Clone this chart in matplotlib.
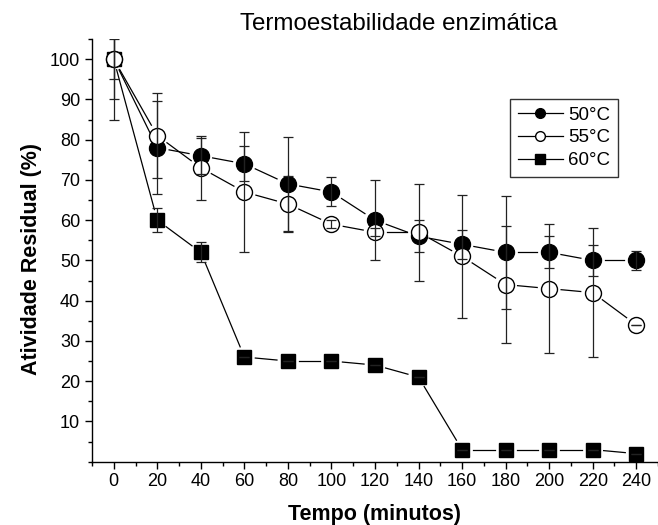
import numpy as np
import matplotlib
matplotlib.use("Agg")
from matplotlib import pyplot as plt
from matplotlib.lines import Line2D
from matplotlib.ticker import MultipleLocator

plt.rcParams['font.family'] = ['Liberation Sans', 'DejaVu Sans']

# data
tempo = [0, 20, 40, 60, 80, 100, 120, 140, 160, 180, 200, 220, 240]

ativ_50 = [100, 78, 76, 74, 69, 67, 60, 56, 54, 52, 52, 50, 50]
erro_50 = [10, 11.5, 4.5, 4.3, 11.6, 3.6, 10, 4, 3.6, 14, 4, 3.8, 2.4]

ativ_55 = [100, 81, 73, 67, 64, 59, 57, 57, 51, 44, 43, 42, 34]
erro_55 = [15, 10.5, 8, 15, 7, 1, 1, 12, 15.3, 14.6, 16, 16, 0]

ativ_60 = [100, 60, 52, 26, 25, 25, 24, 21, 3, 3, 3, 3, 2]
erro_60 = [5, 3, 2.5, 0, 0, 0, 0, 0, 0, 0, 0, 0, 0]

labels = ["50°C", "55°C", "60°C"]

fig = plt.figure(figsize=(6.58, 5.25), dpi=100)
ax = fig.add_axes([0.1398, 0.1206, 0.8602, 0.8051])
ax.set_xlim(-10, 250)
ax.set_ylim(0, 105)

for side in ["top", "right"]:
    ax.spines[side].set_visible(False)
ax.spines["left"].set_linewidth(1.0)
ax.spines["bottom"].set_linewidth(1.0)

ax.xaxis.set_major_locator(MultipleLocator(20))
ax.xaxis.set_minor_locator(MultipleLocator(10))
ax.yaxis.set_major_locator(MultipleLocator(10))
ax.yaxis.set_minor_locator(MultipleLocator(5))
ax.tick_params(which="major", direction="out", length=5, width=1, labelsize=13)
ax.tick_params(which="minor", direction="out", length=3, width=1)
ax.set_yticks(range(10, 101, 10))
ax.set_yticklabels([str(v) for v in range(10, 101, 10)])


def gap_line(xs, ys, gap_px):
    # Origin-style connecting line that stops short of each marker
    trans = ax.transData
    inv = trans.inverted()
    pts = trans.transform(np.column_stack([xs, ys]))
    for i in range(len(pts) - 1):
        p0, p1 = pts[i], pts[i + 1]
        d = p1 - p0
        dist = np.hypot(d[0], d[1])
        if dist <= 2 * gap_px:
            continue
        u = d / dist
        a = inv.transform(p0 + u * gap_px)
        b = inv.transform(p1 - u * gap_px)
        ax.plot([a[0], b[0]], [a[1], b[1]], color="black", lw=0.9, zorder=2)


gap_line(tempo, ativ_60, 11)
gap_line(tempo, ativ_50, 12)
gap_line(tempo, ativ_55, 12)

ek = dict(fmt="none", ecolor="#222222", elinewidth=0.9, capsize=3.3, capthick=0.9, zorder=5)
ax.errorbar(tempo, ativ_60, yerr=erro_60, **ek)
ax.errorbar(tempo, ativ_50, yerr=erro_50, **ek)
ax.errorbar(tempo, ativ_55, yerr=erro_55, **ek)

ax.plot(tempo, ativ_60, ls="none", marker="s", ms=10.5, mfc="black", mec="black", zorder=3)
ax.plot(tempo, ativ_50, ls="none", marker="o", ms=11.5, mfc="black", mec="black", zorder=3)
ax.plot(tempo, ativ_55, ls="none", marker="o", ms=11.5, mfc="white", mec="black", mew=1.0, zorder=4)

handles = [
    Line2D([], [], color="black", lw=0.9, marker="o", ms=7, mfc="black", mec="black"),
    Line2D([], [], color="black", lw=0.9, marker="o", ms=7, mfc="white", mec="black"),
    Line2D([], [], color="black", lw=0.9, marker="s", ms=6.5, mfc="black", mec="black"),
]
leg = ax.legend(handles, labels, loc="upper right", bbox_to_anchor=(0.929, 0.858),
                borderaxespad=0, fontsize=13.5, fancybox=False, frameon=True,
                edgecolor="black", handlelength=2.4, handletextpad=0.3,
                labelspacing=0.3, borderpad=0.4)
leg.get_frame().set_linewidth(1.0)

fig.text(399 / 658, 1 - 30 / 525, "Termoestabilidade enzimática", fontsize=17.4,
         ha="center", va="baseline")
ax.set_xlabel("Tempo (minutos)", fontsize=15.5, fontweight="bold", labelpad=10)
ax.set_ylabel("Atividade Residual (%)", fontsize=15.5, fontweight="bold", labelpad=8)
ax.yaxis.set_label_coords(-0.088, 0.48)

fig.savefig("out.png", dpi=100)
